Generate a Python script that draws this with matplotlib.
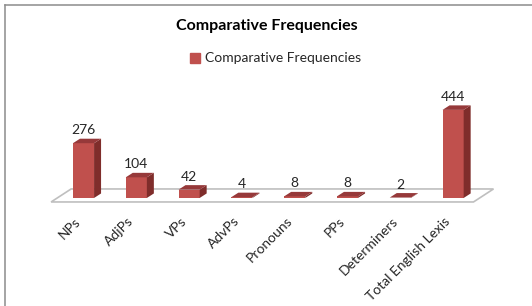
import matplotlib.pyplot as plt
from matplotlib.patches import Polygon, Rectangle, Patch
from matplotlib.lines import Line2D

categories = ["NPs", "AdjPs", "VPs", "AdvPs", "Pronouns", "PPs", "Determiners", "Total English Lexis"]
values = [276, 104, 42, 4, 8, 8, 2, 444]
title = "Comparative Frequencies"
series_name = "Comparative Frequencies"

plt.rcParams['font.family'] = ['Lato', 'DejaVu Sans']

W, H = 532, 306
fig = plt.figure(figsize=(W / 100, H / 100), dpi=100)

# plot box in pixels, measured from the top-left corner
px_left, px_right = 30.7, 505.9
px_top, px_bot = 94.8, 205.9
ax = fig.add_axes([px_left / W, 1 - px_bot / H, (px_right - px_left) / W, (px_bot - px_top) / H])
ax.set_xlim(-1, len(categories))
ax.set_ylim(-40, 520)
ax.axis('off')

sx = (px_right - px_left) / (len(categories) + 1)   # px per category
sy = (px_bot - px_top) / 560                         # px per value unit

front_c = '#c0504d'
side_c = '#7f2d2b'
top_c = '#96393a'

# floor (pseudo 3d)
n = len(categories)
fl = [(-0.5 - 6 / sx, -4 / sy), (n - 0.5 - 6 / sx, -4 / sy),
      (n - 0.5 + 14 / sx, 9 / sy), (-0.5 + 14 / sx, 9 / sy)]
ax.add_patch(Polygon(fl, closed=True, fc='white', ec='#bfbfbf', lw=1.2, zorder=1))

hw = 0.2
ddx, ddy = 7 / sx, 4.5 / sy
for i, v in enumerate(values):
    ax.add_patch(Rectangle((i - hw, 0), 2 * hw, v, fc=front_c, ec='none', zorder=3))
    ax.add_patch(Polygon([(i + hw, 0), (i + hw + ddx, ddy), (i + hw + ddx, v + ddy), (i + hw, v)],
                         fc=side_c, ec='none', zorder=3))
    ax.add_patch(Polygon([(i - hw, v), (i + hw, v), (i + hw + ddx, v + ddy), (i - hw + ddx, v + ddy)],
                         fc=top_c, ec='none', zorder=3))
    ax.annotate(str(v), (i, v), xytext=(0, 9), textcoords='offset pixels',
                ha='center', va='baseline', fontsize=10, color='#262626', annotation_clip=False)
    ax.annotate(categories[i], (i, 0), xytext=(-9, -17), textcoords='offset pixels',
                rotation=45, rotation_mode='anchor', ha='right', va='top',
                fontsize=10, color='#262626', annotation_clip=False)

fig.text(267 / W, 1 - 26 / H, title, ha='center', va='center', fontsize=11.5,
         weight='bold', color='black')
fig.legend(handles=[Patch(color=front_c)], labels=[series_name], loc='center',
           bbox_to_anchor=(275.5 / W, 1 - 58.5 / H), frameon=False, fontsize=10,
           handlelength=0.7, handleheight=0.7, handletextpad=0.4, labelcolor='#262626')

# chart frame (cropped at right / bottom)
fig.add_artist(Line2D([4.5 / W, 1], [1 - 4.5 / H] * 2, color='#8c8c8c', lw=1.1))
fig.add_artist(Line2D([4.5 / W] * 2, [0, 1 - 4.5 / H], color='#8c8c8c', lw=1.1))

fig.savefig('out.png', dpi=100)
